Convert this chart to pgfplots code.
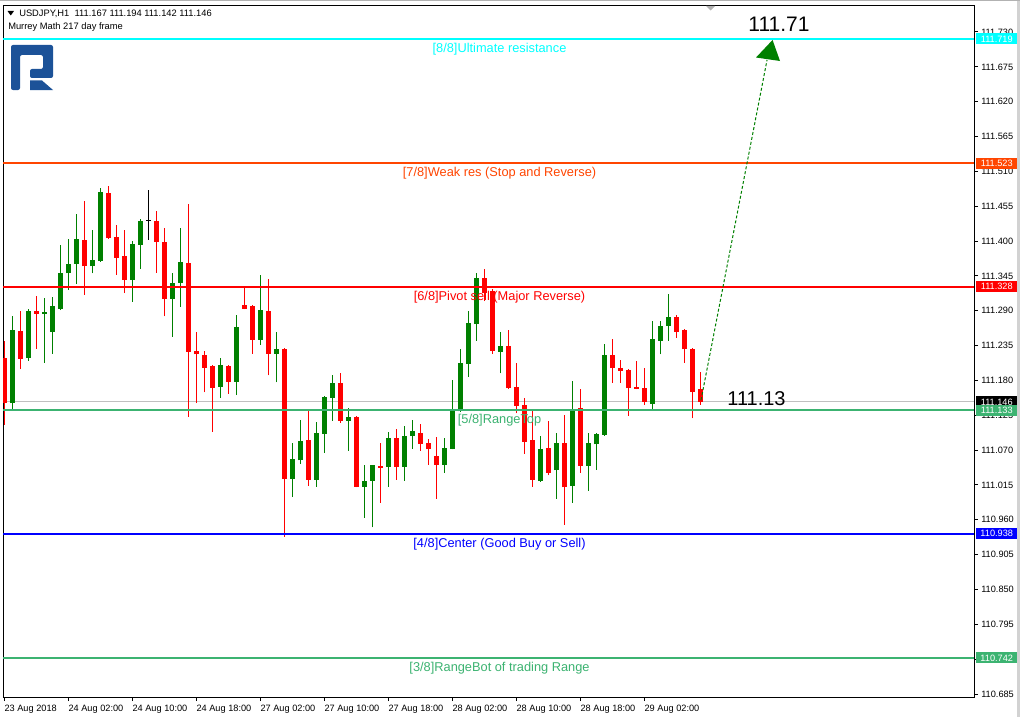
\documentclass[border=0pt]{standalone}
\usepackage{pgfplots}
\pgfplotsset{compat=1.18}
\usepackage{pgfplotstable}
\usepackage{fontspec}
\setmainfont{Liberation Sans}
\definecolor{cgreen}{RGB}{0,128,0}
\definecolor{cred}{RGB}{255,0,0}
\definecolor{lcyan}{RGB}{0,255,255}
\definecolor{lorange}{RGB}{255,69,0}
\definecolor{lsea}{RGB}{60,179,113}
\definecolor{lblue}{RGB}{0,0,255}
\definecolor{lsilver}{RGB}{192,192,192}
\definecolor{logoblue}{RGB}{28,82,152}

\pgfplotstableread{
i o h l c
1 111.144 111.282 111.135 111.260
3 111.216 111.292 111.211 111.290
5 111.285 111.310 111.208 111.288
6 111.257 111.312 111.222 111.298
7 111.293 111.394 111.291 111.350
8 111.349 111.403 111.323 111.364
9 111.364 111.443 111.333 111.403
11 111.360 111.417 111.349 111.370
12 111.369 111.484 111.367 111.477
16 111.339 111.400 111.304 111.395
17 111.394 111.435 111.356 111.432
21 111.309 111.350 111.249 111.334
22 111.334 111.421 111.296 111.367
27 111.170 111.216 111.153 111.204
29 111.178 111.283 111.157 111.264
32 111.244 111.347 111.236 111.291
34 111.222 111.257 111.177 111.230
36 111.025 111.081 110.996 111.056
37 111.054 111.118 111.048 111.084
39 111.023 111.114 111.012 111.097
40 111.096 111.156 111.066 111.154
41 111.153 111.189 111.116 111.176
43 111.116 111.136 111.069 111.122
45 111.012 111.046 110.963 111.022
46 111.022 111.047 110.948 111.046
48 111.044 111.099 111.012 111.089
50 111.044 111.108 111.022 111.092
51 111.092 111.118 111.072 111.100
55 111.047 111.089 111.034 111.074
56 111.072 111.180 111.071 111.132
57 111.131 111.230 111.130 111.208
58 111.206 111.290 111.186 111.271
59 111.269 111.350 111.243 111.342
62 111.225 111.257 111.191 111.234
67 111.022 111.092 111.020 111.072
69 111.038 111.097 110.993 111.082
71 111.014 111.179 110.987 111.132
73 111.045 111.097 111.006 111.082
74 111.079 111.097 111.039 111.096
75 111.094 111.238 111.093 111.220
81 111.143 111.274 111.135 111.245
82 111.243 111.274 111.221 111.266
83 111.266 111.317 111.243 111.280
}\greenc

\pgfplotstableread{
i o h l c
0 111.215 111.242 111.110 111.144
2 111.258 111.290 111.198 111.214
4 111.290 111.313 111.230 111.285
10 111.402 111.463 111.315 111.360
13 111.476 111.487 111.404 111.405
14 111.406 111.425 111.347 111.374
15 111.376 111.417 111.318 111.339
19 111.432 111.447 111.350 111.399
20 111.399 111.421 111.281 111.309
23 111.365 111.459 111.123 111.225
24 111.226 111.256 111.144 111.221
25 111.220 111.226 111.161 111.200
26 111.203 111.205 111.099 111.168
28 111.203 111.205 111.159 111.178
30 111.299 111.327 111.292 111.293
31 111.297 111.299 111.222 111.244
33 111.290 111.340 111.188 111.222
35 111.230 111.231 110.933 111.025
38 111.086 111.132 111.014 111.023
42 111.176 111.192 111.113 111.116
44 111.122 111.124 111.011 111.012
47 111.045 111.082 110.987 111.042
49 111.089 111.103 111.023 111.044
52 111.097 111.111 111.069 111.080
53 111.082 111.088 111.047 111.071
54 111.061 111.091 110.993 111.047
60 111.342 111.356 111.305 111.318
61 111.321 111.324 111.222 111.227
63 111.234 111.259 111.167 111.168
64 111.170 111.208 111.128 111.140
65 111.141 111.152 111.064 111.083
66 111.086 111.132 111.012 111.023
68 111.073 111.116 111.030 111.034
70 111.082 111.125 110.952 111.011
72 111.136 111.167 111.034 111.045
76 111.220 111.246 111.176 111.199
77 111.199 111.213 111.176 111.195
78 111.197 111.198 111.124 111.168
79 111.170 111.210 111.166 111.167
80 111.168 111.199 111.142 111.146
84 111.280 111.283 111.247 111.257
85 111.260 111.261 111.208 111.229
86 111.230 111.231 111.120 111.162
87 111.167 111.194 111.142 111.146
}\redc

\pgfplotstableread{
i o h l c
18 111.434 111.481 111.402 111.432
}\dojic

\pgfplotsset{
  wick/.style={draw=none, mark=none, forget plot,
    error bars/.cd, y dir=plus, y explicit, error mark=none,
    error bar style={draw=#1, line width=0.75pt, solid}},
  body/.style={draw=none, mark=none, forget plot,
    error bars/.cd, y dir=plus, y explicit, error mark=none,
    error bar style={draw=#1, line width=3.75pt, solid}},
}

\begin{document}
\begin{tikzpicture}
\useasboundingbox (0,0) rectangle (765pt,-537.75pt);
\fill[white] (0,0) rectangle (765pt,-537.75pt);
\begin{axis}[
  at={(2.25pt,-522.75pt)}, anchor=south west,
  scale only axis, width=728.25pt, height=519pt,
  xmin=-0.1625, xmax=121.21, ymin=110.6803, ymax=111.7726,
  clip mode=individual,
  axis line style={line width=0.75pt},
  tick align=outside, major tick length=3pt,
  tick style={black, line width=0.75pt},
  ytick={110.685,110.740,110.795,110.850,110.905,110.960,111.015,111.070,111.125,111.180,111.235,111.290,111.345,111.400,111.455,111.510,111.565,111.620,111.675,111.730},
  yticklabels={110.685,110.740,110.795,110.850,110.905,110.960,111.015,111.070,111.125,111.180,111.235,111.290,111.345,111.400,111.455,111.510,111.565,111.620,111.675,111.730},
  ytick pos=right, yticklabel pos=right,
  xtick={0,8,16,24,32,40,48,56,64,72,80},
  xticklabels={23 Aug 2018,24 Aug 02:00,24 Aug 10:00,24 Aug 18:00,27 Aug 02:00,27 Aug 10:00,27 Aug 18:00,28 Aug 02:00,28 Aug 10:00,28 Aug 18:00,29 Aug 02:00},
  xtick pos=bottom,
  ticklabel style={font=\fontsize{6.9}{8}\selectfont},
  yticklabel style={anchor=west, inner sep=0pt, xshift=2.25pt},
  xticklabel style={anchor=north west, inner sep=0pt, yshift=-2.5pt},
  /pgf/number format/assume math mode=true,
]
% bid line
\addplot[lsilver, line width=0.75pt, forget plot] coordinates {(-0.1625,111.146) (121.21,111.146)};
% wicks
\addplot[wick=cgreen] table[x=i, y=l, y error plus expr={\thisrow{h}-\thisrow{l}}] {\greenc};
\addplot[wick=cred] table[x=i, y=l, y error plus expr={\thisrow{h}-\thisrow{l}}] {\redc};
\addplot[wick=black] table[x=i, y=l, y error plus expr={\thisrow{h}-\thisrow{l}}] {\dojic};
% bodies
\addplot[body=cgreen] table[x=i, y expr={min(\thisrow{o},\thisrow{c})}, y error plus expr={abs(\thisrow{c}-\thisrow{o})}] {\greenc};
\addplot[body=cred] table[x=i, y expr={min(\thisrow{o},\thisrow{c})}, y error plus expr={abs(\thisrow{c}-\thisrow{o})}] {\redc};
\addplot[body=black] table[x=i, y expr={min(\thisrow{o},\thisrow{c})}, y error plus expr={abs(\thisrow{c}-\thisrow{o})}] {\dojic};
% Murrey levels
\addplot[lcyan, line width=1.5pt] coordinates {(-0.1625,111.719) (121.21,111.719)};
\addplot[lorange, line width=1.5pt] coordinates {(-0.1625,111.523) (121.21,111.523)};
\addplot[cred, line width=1.5pt] coordinates {(-0.1625,111.328) (121.21,111.328)};
\addplot[lsea, line width=1.5pt] coordinates {(-0.1625,111.133) (121.21,111.133)};
\addplot[lblue, line width=1.5pt] coordinates {(-0.1625,110.938) (121.21,110.938)};
\addplot[lsea, line width=1.5pt] coordinates {(-0.1625,110.742) (121.21,110.742)};
% level labels
\begin{scope}[every node/.style={font=\fontsize{9.6}{11}\selectfont, inner sep=0pt, yshift=-1.5pt}]
\node[text=lcyan] at (axis cs:61.9,111.7063) {[8/8]Ultimate resistance};
\node[text=lorange] at (axis cs:61.9,111.5106) {[7/8]Weak res (Stop and Reverse)};
\node[text=cred] at (axis cs:61.9,111.3148) {[6/8]Pivot sell (Major Reverse)};
\node[text=lsea] at (axis cs:61.9,111.1207) {[5/8]RangeTop};
\node[text=lblue] at (axis cs:61.9,110.9250) {[4/8]Center (Good Buy or Sell)};
\node[text=lsea] at (axis cs:61.9,110.7292) {[3/8]RangeBot of trading Range};
\end{scope}
% arrow
\draw[cgreen, line width=0.75pt, dash pattern=on 2.25pt off 1.5pt] (axis cs:87.09,111.1491) -- (axis cs:95.34,111.6858);
\fill[cgreen] (axis cs:96.03,111.7174) -- (axis cs:93.96,111.6897) -- (axis cs:96.96,111.6842) -- cycle;
\node[font=\fontsize{15.75}{18}\selectfont, inner sep=0pt] at (axis cs:96.84,111.7420) {111.71};
\node[font=\fontsize{15}{18}\selectfont, inner sep=0pt] at (axis cs:94.02,111.1510) {111.13};
% value boxes
\begin{scope}[every node/.style={anchor=west, xshift=1.5pt, minimum width=30.75pt, minimum height=8.25pt, inner sep=0pt, text=white, font=\fontsize{6.9}{8}\selectfont}]
\node[fill=lcyan] at (axis cs:121.21,111.719) {111.719};
\node[fill=lorange] at (axis cs:121.21,111.523) {111.523};
\node[fill=cred] at (axis cs:121.21,111.328) {111.328};
\node[fill=black] at (axis cs:121.21,111.146) {111.146};
\node[fill=lsea] at (axis cs:121.21,111.133) {111.133};
\node[fill=lblue] at (axis cs:121.21,110.938) {110.938};
\node[fill=lsea] at (axis cs:121.21,110.742) {110.742};
\end{scope}
\end{axis}
\begin{scope}[x=0.75pt,y=-0.75pt]
\fill[gray!35] (1017,0) rectangle (1020,717);
\draw[gray!60, line width=0.75pt] (0,0.5) -- (1020,0.5);
\fill[black] (7.5,11) -- (14,11) -- (10.75,15.5) -- cycle;
\node[anchor=west, inner sep=0pt, font=\fontsize{7}{8}\selectfont] at (19,13.5) {USDJPY,H1\ \ 111.167 111.194 111.142 111.146};
\node[anchor=west, inner sep=0pt, font=\fontsize{7}{8}\selectfont] at (8,27) {Murrey Math 217 day frame};
\fill[gray!60] (706,6) -- (715,6) -- (710.5,10.5) -- cycle;
\fill[logoblue, rounded corners=1.5pt] (11,45) -- (53,45) -- (53,78) -- (30,78) -- (30,69) -- (43,69) -- (43,55) -- (20,55) -- (20,90) -- (11,90) -- cycle;
\fill[logoblue] (30,80.5) -- (42,80.5) -- (53,90) -- (30,90) -- cycle;
\end{scope}
\end{tikzpicture}
\end{document}
